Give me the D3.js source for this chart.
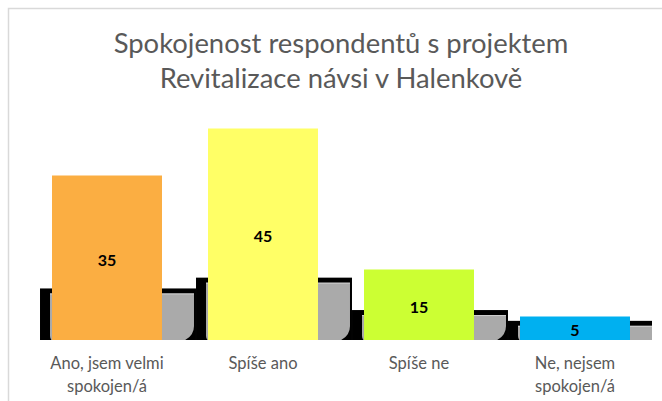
<!DOCTYPE html>
<html>
<head>
<meta charset="utf-8">
<script src="https://cdn.jsdelivr.net/npm/d3@7"></script>
<style>
  html, body { margin: 0; padding: 0; background: #fff; }
  svg { display: block; }
</style>
</head>
<body>
<svg id="chart" width="662" height="401"></svg>
<script>
const titleLines = ["Spokojenost respondentů s projektem", "Revitalizace návsi v Halenkově"];
const categories = ["Ano, jsem velmi spokojen/á", "Spíše ano", "Spíše ne", "Ne, nejsem spokojen/á"];
const categoryLines = [["Ano, jsem velmi", "spokojen/á"], ["Spíše ano"], ["Spíše ne"], ["Ne, nejsem", "spokojen/á"]];
const values = [35, 45, 15, 5];
const colors = ["#FBAE42", "#FFFF66", "#CCFF33", "#00B0F0"];

const svg = d3.select("#chart");
const baseY = 340;
const FONT = "Lato, 'Open Sans', sans-serif";

// chart border
svg.append("rect")
  .attr("x", 8.5).attr("y", 8.5)
  .attr("width", 700).attr("height", 500)
  .attr("fill", "#fff").attr("stroke", "#d9d9d9").attr("stroke-width", 1.5);

const x = d3.scaleBand().domain(categories).range([29, 653]).paddingInner(0.295).paddingOuter(0.1475);
const y = d3.scaleLinear().domain([0, 50]).range([baseY, 105]);
// shadow depth grows with value (as drawn in reference)
const sh = d3.scaleLinear().domain([0, 45]).range([13.75, 62.35]);

const bw = x.bandwidth();

const defs = svg.append("defs");
defs.append("clipPath").attr("id", "plotclip")
  .append("rect").attr("x", 0).attr("y", 0).attr("width", 652).attr("height", baseY);

const shadowG = svg.append("g").attr("clip-path", "url(#plotclip)");
categories.forEach((c, i) => {
  const v = values[i];
  const x0 = x(c);
  const top = baseY - sh(v);
  shadowG.append("rect")
    .attr("x", x0 - 12).attr("y", top)
    .attr("width", bw + 12 + 34).attr("height", baseY - top)
    .attr("fill", "#000");
  const gx0 = x0 - 2, gx1 = x0 + bw + 32, gt = top + 5, r = 14;
  const p = d3.path();
  p.moveTo(gx0, gt);
  p.lineTo(gx1, gt);
  p.lineTo(gx1, baseY - r);
  p.quadraticCurveTo(gx1, baseY - 2, gx1 - r, baseY + 2);
  p.lineTo(gx0 + 4, baseY + 2);
  p.quadraticCurveTo(gx0, baseY, gx0, baseY - 4);
  p.closePath();
  shadowG.append("path").attr("d", p.toString()).attr("fill", "#aaaaaa");
  shadowG.append("line")
    .attr("x1", gx0).attr("x2", gx1).attr("y1", gt + 0.5).attr("y2", gt + 0.5)
    .attr("stroke", "#cfcfcf").attr("stroke-width", 1);
});

// bars
svg.append("g").selectAll("rect").data(values).join("rect")
  .attr("x", (d, i) => x(categories[i]))
  .attr("y", d => y(d))
  .attr("width", bw)
  .attr("height", d => baseY - y(d))
  .attr("fill", (d, i) => colors[i]);

// value labels
svg.append("g").selectAll("text").data(values).join("text")
  .attr("x", (d, i) => x(categories[i]) + bw / 2)
  .attr("y", d => (y(d) + baseY) / 2 + 1.5)
  .attr("text-anchor", "middle")
  .attr("dominant-baseline", "central")
  .attr("font-family", FONT)
  .attr("font-weight", "bold")
  .attr("font-size", 16)
  .attr("fill", "#000")
  .text(d => d);

// category labels
const catG = svg.append("g");
categories.forEach((c, i) => {
  const t = catG.append("text")
    .attr("x", x(c) + bw / 2)
    .attr("y", 369)
    .attr("text-anchor", "middle")
    .attr("font-family", FONT)
    .attr("font-size", 16.5)
    .attr("fill", "#595959");
  categoryLines[i].forEach((ln, j) => {
    t.append("tspan").attr("x", x(c) + bw / 2).attr("dy", j === 0 ? 0 : 23).text(ln);
  });
});

// title
const titleG = svg.append("g");
const t1 = titleG.append("text").attr("x", 341).attr("y", 53)
  .attr("text-anchor", "middle").attr("font-family", FONT)
  .attr("font-size", 24).attr("fill", "#595959").text(titleLines[0]);
const t2 = titleG.append("text").attr("x", 341).attr("y", 88)
  .attr("text-anchor", "middle").attr("font-family", FONT)
  .attr("font-size", 24).attr("fill", "#595959").text(titleLines[1]);
const w1 = t1.node().getComputedTextLength();
const fs = 24 * 455 / w1;
t1.attr("font-size", fs);
t2.attr("font-size", fs);
</script>
</body>
</html>
